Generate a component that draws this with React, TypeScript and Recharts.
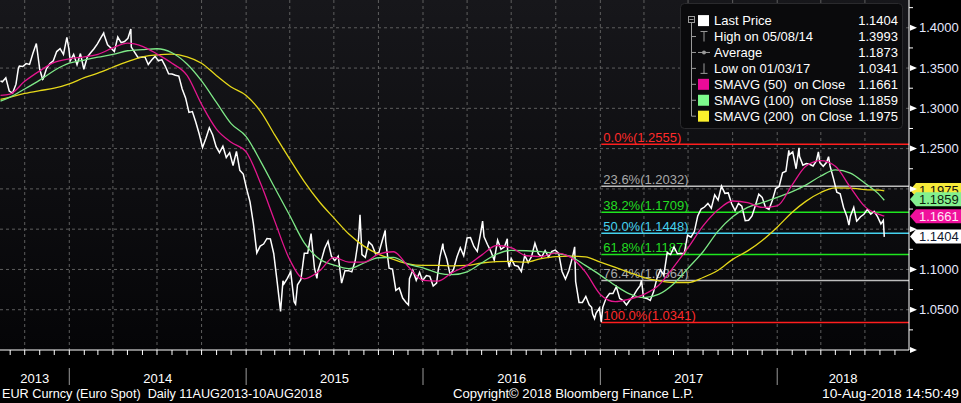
import React from 'react';
import { LineChart, Line, XAxis, YAxis, CartesianGrid, ReferenceLine } from 'recharts';

const FONT = '"Liberation Sans", Arial, sans-serif';
const day = (s: string) => Date.UTC(+s.slice(0, 4), +s.slice(5, 7) - 1, +s.slice(8, 10)) / 86400000;

const X_START = '2013-08-11';
const X_END = '2018-09-30';

// EUR/USD, approx. weekly closes plus notable extremes
const price2013: [string, number][] = [
  ['08-12', 1.334], ['08-16', 1.333], ['08-23', 1.338], ['08-30', 1.3215], ['09-06', 1.319], ['09-13', 1.33],
  ['09-18', 1.35], ['09-20', 1.3525], ['09-27', 1.352], ['10-04', 1.3555], ['10-11', 1.3545], ['10-18', 1.3685],
  ['10-25', 1.3805], ['11-01', 1.3485], ['11-07', 1.336], ['11-08', 1.3365], ['11-15', 1.3495], ['11-22', 1.3555],
  ['11-29', 1.359], ['12-06', 1.3705], ['12-13', 1.374], ['12-20', 1.367], ['12-27', 1.388], ['12-31', 1.3745],
];
const price2014: [string, number][] = [
  ['01-03', 1.359], ['01-10', 1.367], ['01-17', 1.354], ['01-24', 1.368], ['01-31', 1.3485], ['02-07', 1.3635],
  ['02-14', 1.369], ['02-21', 1.374], ['02-28', 1.38], ['03-07', 1.3875], ['03-13', 1.3935], ['03-14', 1.391],
  ['03-21', 1.379], ['03-28', 1.375], ['04-04', 1.3705], ['04-11', 1.3885], ['04-18', 1.3815], ['04-25', 1.383],
  ['05-02', 1.387], ['05-08', 1.3985], ['05-09', 1.376], ['05-16', 1.3695], ['05-23', 1.363], ['05-30', 1.3635],
  ['06-06', 1.364], ['06-13', 1.3545], ['06-20', 1.36], ['06-27', 1.3645], ['07-04', 1.359], ['07-11', 1.3605],
  ['07-18', 1.3525], ['07-25', 1.343], ['08-01', 1.3425], ['08-08', 1.341], ['08-15', 1.34], ['08-22', 1.324],
  ['08-29', 1.313], ['09-05', 1.295], ['09-12', 1.296], ['09-19', 1.283], ['09-26', 1.2685], ['10-03', 1.2515],
  ['10-10', 1.263], ['10-17', 1.276], ['10-24', 1.267], ['10-31', 1.2525], ['11-07', 1.245], ['11-14', 1.253],
  ['11-21', 1.239], ['11-28', 1.245], ['12-05', 1.229], ['12-12', 1.2465], ['12-19', 1.223], ['12-26', 1.2185],
];
const price2015: [string, number][] = [
  ['01-02', 1.2], ['01-09', 1.184], ['01-16', 1.1565], ['01-23', 1.1205], ['01-30', 1.129], ['02-06', 1.1315],
  ['02-13', 1.1385], ['02-20', 1.138], ['02-27', 1.1195], ['03-06', 1.0845], ['03-13', 1.048], ['03-18', 1.086],
  ['03-20', 1.082], ['03-27', 1.089], ['04-03', 1.097], ['04-10', 1.06], ['04-13', 1.057], ['04-17', 1.081],
  ['04-24', 1.0875], ['05-01', 1.12], ['05-08', 1.12], ['05-15', 1.1445], ['05-22', 1.1015], ['05-27', 1.089],
  ['05-29', 1.0985], ['06-05', 1.111], ['06-12', 1.126], ['06-19', 1.135], ['06-26', 1.1165], ['07-03', 1.111],
  ['07-10', 1.1165], ['07-17', 1.083], ['07-24', 1.0985], ['07-31', 1.0985], ['08-07', 1.097], ['08-14', 1.1105],
  ['08-21', 1.1385], ['08-24', 1.168], ['08-28', 1.1185], ['09-04', 1.115], ['09-11', 1.134], ['09-18', 1.13],
  ['09-25', 1.1195], ['10-02', 1.121], ['10-09', 1.136], ['10-15', 1.1485], ['10-16', 1.135], ['10-23', 1.1015],
  ['10-30', 1.1005], ['11-06', 1.074], ['11-13', 1.077], ['11-20', 1.0645], ['11-27', 1.059], ['12-02', 1.056],
  ['12-04', 1.0885], ['12-11', 1.099], ['12-18', 1.0865], ['12-25', 1.0965], ['12-31', 1.086],
];
const price2016: [string, number][] = [
  ['01-08', 1.0925], ['01-15', 1.0915], ['01-22', 1.0795], ['01-29', 1.083], ['02-05', 1.1155], ['02-11', 1.132],
  ['02-12', 1.1255], ['02-19', 1.113], ['02-26', 1.0935], ['03-04', 1.1], ['03-11', 1.1155], ['03-18', 1.127],
  ['03-25', 1.117], ['04-01', 1.139], ['04-08', 1.1395], ['04-15', 1.1285], ['04-22', 1.1225], ['04-29', 1.1455],
  ['05-03', 1.16], ['05-06', 1.1405], ['05-13', 1.131], ['05-20', 1.1225], ['05-27', 1.1115], ['06-03', 1.1365],
  ['06-10', 1.125], ['06-17', 1.128], ['06-23', 1.138], ['06-24', 1.1115], ['06-27', 1.103], ['07-01', 1.1135],
  ['07-08', 1.105], ['07-15', 1.104], ['07-22', 1.0975], ['07-29', 1.1175], ['08-05', 1.1085], ['08-12', 1.116],
  ['08-19', 1.1325], ['08-26', 1.1195], ['09-02', 1.1155], ['09-09', 1.1235], ['09-16', 1.1155], ['09-23', 1.1225],
  ['09-30', 1.124], ['10-07', 1.12], ['10-14', 1.0975], ['10-21', 1.088], ['10-28', 1.0985], ['11-04', 1.114],
  ['11-09', 1.128], ['11-11', 1.085], ['11-18', 1.059], ['11-25', 1.059], ['12-02', 1.0665], ['12-09', 1.056],
  ['12-14', 1.053], ['12-16', 1.045], ['12-20', 1.039], ['12-23', 1.0455], ['12-30', 1.052],
];
const price2017: [string, number][] = [
  ['01-03', 1.0345], ['01-06', 1.053], ['01-13', 1.0645], ['01-20', 1.07], ['01-27', 1.07], ['02-03', 1.0785],
  ['02-10', 1.064], ['02-17', 1.0615], ['02-24', 1.056], ['03-03', 1.062], ['03-10', 1.067], ['03-17', 1.074],
  ['03-24', 1.08], ['03-27', 1.0865], ['03-31', 1.065], ['04-07', 1.064], ['04-14', 1.0615], ['04-21', 1.0725],
  ['04-28', 1.0895], ['05-05', 1.0995], ['05-12', 1.093], ['05-19', 1.121], ['05-26', 1.1185], ['06-02', 1.128],
  ['06-09', 1.1195], ['06-16', 1.12], ['06-23', 1.1195], ['06-30', 1.1425], ['07-07', 1.14], ['07-14', 1.147],
  ['07-21', 1.1665], ['07-28', 1.175], ['08-04', 1.1775], ['08-11', 1.182], ['08-18', 1.176], ['08-25', 1.1925],
  ['09-01', 1.186], ['09-08', 1.2035], ['09-15', 1.1945], ['09-22', 1.195], ['09-29', 1.1815], ['10-06', 1.173],
  ['10-13', 1.182], ['10-20', 1.1785], ['10-27', 1.1605], ['11-03', 1.161], ['11-10', 1.1665], ['11-17', 1.1795],
  ['11-24', 1.1935], ['12-01', 1.1895], ['12-08', 1.177], ['12-15', 1.1745], ['12-22', 1.186], ['12-29', 1.2005],
];
const price2018: [string, number][] = [
  ['01-05', 1.203], ['01-12', 1.22], ['01-19', 1.222], ['01-25', 1.248], ['01-26', 1.2425], ['02-02', 1.246],
  ['02-09', 1.225], ['02-15', 1.251], ['02-16', 1.2405], ['02-23', 1.2295], ['03-02', 1.2315], ['03-09', 1.2305],
  ['03-16', 1.2285], ['03-23', 1.235], ['03-27', 1.246], ['03-30', 1.2325], ['04-06', 1.228], ['04-13', 1.233],
  ['04-17', 1.24], ['04-20', 1.2285], ['04-27', 1.213], ['05-04', 1.196], ['05-11', 1.194], ['05-18', 1.177],
  ['05-25', 1.1655], ['05-29', 1.155], ['06-01', 1.166], ['06-08', 1.177], ['06-14', 1.16], ['06-15', 1.1605],
  ['06-22', 1.1655], ['06-29', 1.1685], ['07-06', 1.1745], ['07-13', 1.1685], ['07-20', 1.172], ['07-27', 1.1655],
  ['08-03', 1.1565], ['08-08', 1.161], ['08-10', 1.1404],
];
const PRICE_YEARS: [number, [string, number][]][] = [
  [2013, price2013], [2014, price2014], [2015, price2015], [2016, price2016], [2017, price2017], [2018, price2018],
];
const priceData = PRICE_YEARS.flatMap(([y, rows]) => rows.map(([md, v]) => ({ t: day(`${y}-${md}`), v })));

// Moving averages, sampled monthly from the chart
const maDates = [
  '2013-08-12', '2013-09-01', '2013-10-01', '2013-11-01', '2013-12-01',
  '2014-01-01', '2014-02-01', '2014-03-01', '2014-04-01', '2014-05-01', '2014-06-01', '2014-07-01', '2014-08-01', '2014-09-01', '2014-10-01', '2014-11-01', '2014-12-01',
  '2015-01-01', '2015-02-01', '2015-03-01', '2015-04-01', '2015-05-01', '2015-06-01', '2015-07-01', '2015-08-01', '2015-09-01', '2015-10-01', '2015-11-01', '2015-12-01',
  '2016-01-01', '2016-02-01', '2016-03-01', '2016-04-01', '2016-05-01', '2016-06-01', '2016-07-01', '2016-08-01', '2016-09-01', '2016-10-01', '2016-11-01', '2016-12-01',
  '2017-01-01', '2017-02-01', '2017-03-01', '2017-04-01', '2017-05-01', '2017-06-01', '2017-07-01', '2017-08-01', '2017-09-01', '2017-10-01', '2017-11-01', '2017-12-01',
  '2018-01-01', '2018-02-01', '2018-03-01', '2018-04-01', '2018-05-01', '2018-06-01', '2018-07-01', '2018-08-01', '2018-08-10',
];
const sma50 = [
  1.316, 1.3177, 1.3335, 1.3465, 1.357,
  1.3615, 1.364, 1.367, 1.375, 1.381, 1.377, 1.3675, 1.356, 1.341, 1.305, 1.274, 1.258,
  1.246, 1.205, 1.16, 1.112, 1.0884, 1.098, 1.115, 1.109, 1.109, 1.119, 1.122, 1.104,
  1.0865, 1.0855, 1.096, 1.105, 1.1178, 1.1297, 1.127, 1.117, 1.116, 1.1205, 1.115, 1.097,
  1.069, 1.06, 1.063, 1.069, 1.08, 1.103, 1.127, 1.154, 1.174, 1.185, 1.183, 1.177,
  1.179, 1.205, 1.228, 1.235, 1.228, 1.202, 1.178, 1.168, 1.1661,
];
const sma100 = [
  1.309, 1.314, 1.324, 1.335, 1.347,
  1.356, 1.36, 1.3635, 1.367, 1.3715, 1.373, 1.374, 1.369, 1.355, 1.334, 1.307, 1.281,
  1.265, 1.233, 1.2015, 1.167, 1.133, 1.113, 1.1055, 1.101, 1.108, 1.1145, 1.115, 1.1065,
  1.102, 1.0955, 1.0935, 1.097, 1.108, 1.119, 1.1236, 1.1232, 1.122, 1.12, 1.116, 1.105,
  1.093, 1.08, 1.07, 1.065, 1.069, 1.082, 1.1015, 1.122, 1.1475, 1.1655, 1.177, 1.183,
  1.1895, 1.1966, 1.2047, 1.216, 1.2236, 1.2195, 1.207, 1.192, 1.1859,
];
const sma200 = [
  1.311, 1.314, 1.3185, 1.322, 1.325,
  1.3305, 1.338, 1.3437, 1.351, 1.358, 1.364, 1.3665, 1.3672, 1.364, 1.356, 1.3405, 1.3265,
  1.316, 1.295, 1.267, 1.237, 1.209, 1.184, 1.164, 1.144, 1.129, 1.119, 1.1125, 1.107,
  1.105, 1.105, 1.1045, 1.105, 1.108, 1.1097, 1.11, 1.109, 1.1135, 1.116, 1.1165, 1.1155,
  1.109, 1.1025, 1.0965, 1.09, 1.086, 1.0838, 1.0838, 1.09, 1.099, 1.1125, 1.123, 1.136,
  1.1525, 1.171, 1.1845, 1.1955, 1.2012, 1.201, 1.1992, 1.1985, 1.1975,
];
const maData = maDates.map((d, i) => ({ t: day(d), s50: sma50[i], s100: sma100[i], s200: sma200[i] }));

// Fibonacci retracement from the 2017-01-03 low to the 2018 high
const FIB_START = '2017-01-03';
const fibPct = ['0.0%', '23.6%', '38.2%', '50.0%', '61.8%', '76.4%', '100.0%'];
const fibValues = [1.2555, 1.2032, 1.1709, 1.1448, 1.1187, 1.0864, 1.0341];
const fibLineColors = ['#ff1e1e', '#bdbdbd', '#1ee61e', '#45d2ee', '#1ee61e', '#bdbdbd', '#ff1e1e'];
const fibTextColors = ['#ff2a2a', '#a9a9a9', '#22dd22', '#45d2ee', '#22dd22', '#a9a9a9', '#ff2a2a'];

const yTicks = [1.0, 1.025, 1.05, 1.075, 1.1, 1.125, 1.15, 1.175, 1.2, 1.225, 1.25, 1.275, 1.3, 1.325, 1.35, 1.375, 1.4, 1.425];
// major ticks whose text is hidden under the value tags (or below the plot)
const hiddenTickLabels = [1.0, 1.15, 1.2];
const yearLabels = ['2013', '2014', '2015', '2016', '2017', '2018'];
const gridLevels = [1.05, 1.1, 1.15, 1.2, 1.25, 1.3, 1.35, 1.4];

const legendLabels = ['Last Price', 'High on 05/08/14', 'Average', 'Low on 01/03/17', 'SMAVG (50)  on Close', 'SMAVG (100)  on Close', 'SMAVG (200)  on Close'];
const legendValues = [1.1404, 1.3993, 1.1873, 1.0341, 1.1661, 1.1859, 1.1975];

const C50 = '#e4168e';
const C100 = '#7ee887';
const C200 = '#e6d81a';

// axis helpers
const xMin = day(X_START);
const xMax = day(X_END);
const monthTicks: number[] = [];
const janSet = new Set<number>();
const quarterTicks: number[] = [];
for (let y = 2013; y <= 2018; y++) {
  for (let m = 1; m <= 12; m++) {
    const t = Date.UTC(y, m - 1, 1) / 86400000;
    if (t <= xMin || t >= xMax) continue;
    monthTicks.push(t);
    if (m === 1) janSet.add(t);
    if ((m - 1) % 3 === 0) quarterTicks.push(t);
  }
}
const yearCenter = new Map<number, string>();
yearLabels.forEach((lab) => {
  const y = +lab;
  const a = Math.max(xMin, Date.UTC(y, 0, 1) / 86400000);
  const b = Math.min(xMax, Date.UTC(y + 1, 0, 1) / 86400000);
  yearCenter.set((a + b) / 2 + 0.01, lab);
});
const xTicks = [...monthTicks, ...Array.from(yearCenter.keys())].sort((a, b) => a - b);

const XTick = (props: any) => {
  const { x, y, payload } = props;
  const v = payload.value;
  const lab = yearCenter.get(v);
  if (lab) {
    return (
      <text x={x} y={y + 32.5} textAnchor="middle" fill="#ffffff" fontSize={13} fontFamily={FONT}>{lab}</text>
    );
  }
  return (
    <g>
      <line x1={x} x2={x} y1={y} y2={y + 5} stroke="#ffffff" strokeWidth={1} />
      {janSet.has(v) && <line x1={x} x2={x} y1={y + 18} y2={y + 35} stroke="#9a9a9a" strokeWidth={1} />}
    </g>
  );
};

const YTick = (props: any) => {
  const { x, y, payload } = props;
  const v = payload.value as number;
  const major = Math.round(v * 1000) % 50 === 0;
  if (!major) return <line x1={x} x2={x + 4} y1={y} y2={y} stroke="#ffffff" strokeWidth={1} />;
  const hidden = hiddenTickLabels.some((h) => Math.abs(h - v) < 1e-6);
  return (
    <g>
      <polygon points={`${x + 1},${y - 3} ${x + 8},${y} ${x + 1},${y + 3}`} fill="#ffffff" />
      {!hidden && (
        <text x={x + 10} y={y + 4.6} fill="#e6e9ff" fontSize={13} fontFamily={FONT}>{v.toFixed(4)}</text>
      )}
    </g>
  );
};

const makeTag = (value: number, fill: string, textColor: string, dy: number) => (props: any) => {
  const vb = props.viewBox || {};
  const xr = vb.x + vb.width;
  const cy = vb.y + dy;
  const h = 7;
  return (
    <g>
      <polygon
        points={`${xr + 1},${cy} ${xr + 7},${cy - h} ${xr + 52},${cy - h} ${xr + 52},${cy + h} ${xr + 7},${cy + h}`}
        fill={fill}
      />
      <text x={xr + 10} y={cy + 4.6} fill={textColor} fontSize={13} fontFamily={FONT}>{value.toFixed(4)}</text>
    </g>
  );
};

const makeFibLabel = (i: number) => (props: any) => {
  const vb = props.viewBox || {};
  return (
    <text x={vb.x + 2} y={vb.y - 2.5} fill={fibTextColors[i]} fontSize={13} fontFamily={FONT}>
      {`${fibPct[i]}(${fibValues[i].toFixed(4)})`}
    </text>
  );
};

const lastPrice = priceData[priceData.length - 1].v;
const tags = [
  { value: sma200[sma200.length - 1], fill: '#f6ea3a', text: '#111111', dy: -1 },
  { value: sma100[sma100.length - 1], fill: '#84f08e', text: '#0c1a0c', dy: -1 },
  { value: sma50[sma50.length - 1], fill: '#f0119c', text: '#ffe8f6', dy: 0 },
  { value: lastPrice, fill: '#ffffff', text: '#101830', dy: -0.5 },
];

const Legend = () => {
  const rowY = (i: number) => 20.6 + i * 15.93;
  const gray = '#9a9a9a';
  const squares: Record<number, string> = { 0: '#ffffff', 4: '#ec0a98', 5: '#7dfa8c', 6: '#fbef2c' };
  return (
    <g fontFamily={FONT}>
      <rect x={680.5} y={3.5} width={222} height={125} rx={4} fill="#0a0a0c" stroke="#2a2a2d" />
      <rect x={688.5} y={16.5} width={6} height={6} fill="none" stroke={gray} />
      <line x1={689.5} x2={693.5} y1={19.5} y2={19.5} stroke={gray} />
      <line x1={691.5} x2={691.5} y1={23} y2={rowY(6)} stroke={gray} />
      {[1, 2, 3, 4, 5, 6].map((i) => (
        <line key={i} x1={691.5} x2={696} y1={rowY(i)} y2={rowY(i)} stroke={gray} />
      ))}
      {legendLabels.map((lab, i) => {
        const cy = rowY(i);
        let sym: React.ReactNode = null;
        if (squares[i]) sym = <rect x={698} y={cy - 5.5} width={11} height={11} fill={squares[i]} />;
        else if (i === 1)
          sym = (
            <g stroke={gray}>
              <line x1={700.5} x2={707.5} y1={cy - 5} y2={cy - 5} />
              <line x1={704} x2={704} y1={cy - 5} y2={cy + 5} />
            </g>
          );
        else if (i === 2)
          sym = (
            <g>
              <line x1={698} x2={710} y1={cy} y2={cy} stroke={gray} />
              <circle cx={704} cy={cy} r={2} fill={gray} />
            </g>
          );
        else if (i === 3)
          sym = (
            <g stroke={gray}>
              <line x1={704} x2={704} y1={cy - 5} y2={cy + 5} />
              <line x1={700.5} x2={707.5} y1={cy + 5} y2={cy + 5} />
            </g>
          );
        return (
          <g key={lab}>
            {sym}
            <text x={714} y={cy + 4.6} fill="#ffffff" fontSize={13} style={{ whiteSpace: 'pre' }}>{lab}</text>
            <text x={898} y={cy + 4.6} fill="#ffffff" fontSize={13} textAnchor="end">{legendValues[i].toFixed(4)}</text>
          </g>
        );
      })}
    </g>
  );
};

export default function App() {
  return (
    <div style={{ position: 'relative', width: 961, height: 403, background: '#000', overflow: 'hidden' }}>
      <style>{'body{margin:0;background:#000}'}</style>
      <LineChart width={961} height={403} margin={{ top: 0, right: 0, bottom: 0, left: 0 }}>
        <defs>
          <linearGradient id="plotBg" x1="0" y1="0" x2="0" y2="1">
            <stop offset="0%" stopColor="#17171b" />
            <stop offset="100%" stopColor="#050507" />
          </linearGradient>
        </defs>
        <CartesianGrid
          fill="url(#plotBg)"
          fillOpacity={1}
          stroke="#5e5e5e"
          strokeDasharray="3 3"
          verticalValues={quarterTicks}
          horizontalValues={gridLevels}
        />
        <XAxis
          dataKey="t"
          type="number"
          domain={[xMin, xMax]}
          allowDataOverflow
          ticks={xTicks}
          interval={0}
          height={53}
          tickSize={0}
          tickMargin={0}
          tickLine={false}
          axisLine={{ stroke: '#ffffff' }}
          tick={XTick}
        />
        <YAxis
          orientation="right"
          type="number"
          domain={[1.0, 1.4345]}
          allowDataOverflow
          ticks={yTicks}
          interval={0}
          width={52}
          tickSize={0}
          tickMargin={0}
          tickLine={false}
          axisLine={{ stroke: '#ffffff' }}
          tick={YTick}
        />
        {fibValues.map((v, i) => (
          <ReferenceLine
            key={`fib${i}`}
            segment={[{ x: day(FIB_START), y: v }, { x: xMax, y: v }]}
            stroke={fibLineColors[i]}
            strokeWidth={1.5}
            ifOverflow="extendDomain"
            label={makeFibLabel(i)}
          />
        ))}
        <Line data={priceData} dataKey="v" type="linear" stroke="#ffffff" strokeWidth={1.5} dot={false} activeDot={false} isAnimationActive={false} />
        <Line data={maData} dataKey="s200" type="monotone" stroke={C200} strokeWidth={1.3} dot={false} activeDot={false} isAnimationActive={false} />
        <Line data={maData} dataKey="s100" type="monotone" stroke={C100} strokeWidth={1.3} dot={false} activeDot={false} isAnimationActive={false} />
        <Line data={maData} dataKey="s50" type="monotone" stroke={C50} strokeWidth={1.3} dot={false} activeDot={false} isAnimationActive={false} />
        {tags.map((tg, i) => (
          <ReferenceLine
            key={`tag${i}`}
            y={tg.value}
            stroke="none"
            strokeOpacity={0}
            label={makeTag(tg.value, tg.fill, tg.text, tg.dy)}
          />
        ))}
      </LineChart>
      <svg width={961} height={403} style={{ position: 'absolute', left: 0, top: 0, pointerEvents: 'none' }}>
        <Legend />
        <g fontFamily={FONT} fontSize={12} fill="#ffffff">
          <text x={2} y={398} style={{ whiteSpace: 'pre' }} textLength={320} lengthAdjust="spacingAndGlyphs">
            {'EUR Curncy (Euro Spot)  Daily 11AUG2013-10AUG2018'}
          </text>
          <text x={453} y={398} textLength={241} lengthAdjust="spacingAndGlyphs">
            {'Copyright\u00a9 2018 Bloomberg Finance L.P.'}
          </text>
          <text x={822} y={398} textLength={137} lengthAdjust="spacingAndGlyphs">
            {'10-Aug-2018 14:50:49'}
          </text>
        </g>
      </svg>
    </div>
  );
}
